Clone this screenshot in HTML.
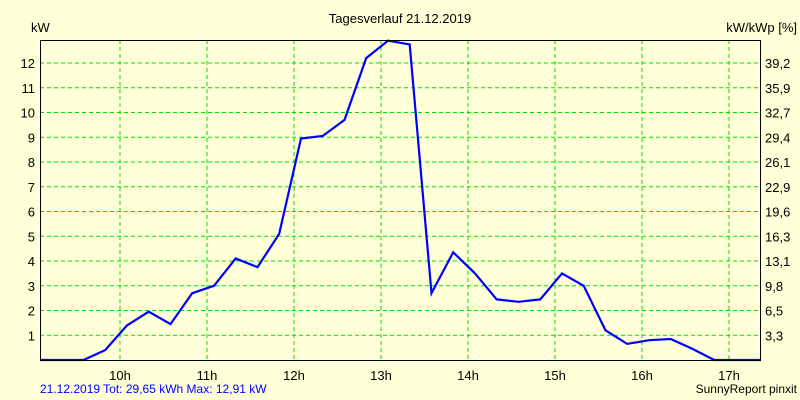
<!DOCTYPE html>
<html><head><meta charset="utf-8"><style>
body{margin:0;background:#ffffd8;}
svg{display:block;font-family:"Liberation Sans",sans-serif;font-size:13px;}
</style></head><body>
<svg id="chart" width="800" height="400" viewBox="0 0 800 400">
<rect width="800" height="400" fill="#ffffd8"/>
<text x="400" y="23" text-anchor="middle">Tagesverlauf 21.12.2019</text>
<text x="31" y="32">kW</text>
<text x="797" y="32" text-anchor="end">kW/kWp [%]</text>
<g id="grid"></g><g id="ticks"></g>
<path id="line" fill="none" stroke="#0000ff" stroke-width="2.2"/>
<path d="M40.5,40.5V360.5H760.5V40.5H40.5" fill="none" stroke="#000" stroke-width="1"/>
<text x="40" y="393" fill="#0000ff" font-size="12">21.12.2019 Tot: 29,65 kWh Max: 12,91 kW</text>
<text x="797" y="393" text-anchor="end" font-size="12">SunnyReport pinxit</text>
</svg>
<script>
const hours=[10,11,12,13,14,15,16,17];
const yTicks=[1,2,3,4,5,6,7,8,9,10,11,12];
const y2Labels=["3,3","6,5","9,8","13,1","16,3","19,6","22,9","26,1","29,4","32,7","35,9","39,2"];
const times=[9.08,9.58,9.83,10.08,10.33,10.58,10.83,11.08,11.33,11.58,11.83,12.08,12.33,12.58,12.83,13.08,13.33,13.58,13.83,14.08,14.33,14.58,14.83,15.08,15.33,15.58,15.83,16.08,16.33,16.58,16.83,17.36];
const power=[0,0,0.4,1.4,1.95,1.45,2.7,3.0,4.1,3.75,5.1,8.95,9.05,9.7,12.2,12.9,12.75,2.7,4.35,3.5,2.45,2.35,2.45,3.5,3.0,1.2,0.65,0.8,0.85,0.45,0,0];
const X=t=>120+(t-10)*87;
const Y=v=>360-v*24.75;
const NS="http://www.w3.org/2000/svg";
const grid=document.getElementById('grid'),ticks=document.getElementById('ticks');
function mk(tag,attrs,parent){const e=document.createElementNS(NS,tag);for(const k in attrs)e.setAttribute(k,attrs[k]);parent.appendChild(e);return e;}
hours.forEach(h=>{
 const l=mk('line',{x1:X(h),x2:X(h),y1:40,y2:360,stroke:'#00e000','stroke-dasharray':'4,3'},grid);
 
 
 const t=mk('text',{x:X(h),y:380,'text-anchor':'middle'},ticks);t.textContent=h+'h';
 
 
});
yTicks.forEach((v,i)=>{
 const l=mk('line',{x1:40,x2:760,y1:Y(v),y2:Y(v),stroke:'#00e000','stroke-dasharray':'4,3'},grid);
 
 
 const t=mk('text',{x:35,y:Y(v)+5,'text-anchor':'end'},ticks);t.textContent=v;
 
 
 const t2=mk('text',{x:765,y:Y(v)+5},ticks);t2.textContent=y2Labels[i];
 
 
});
document.getElementById('line').setAttribute('d',times.map((t,i)=>(i?'L':'M')+X(t).toFixed(1)+','+Y(power[i]).toFixed(1)).join(''));
</script>
</body></html>
